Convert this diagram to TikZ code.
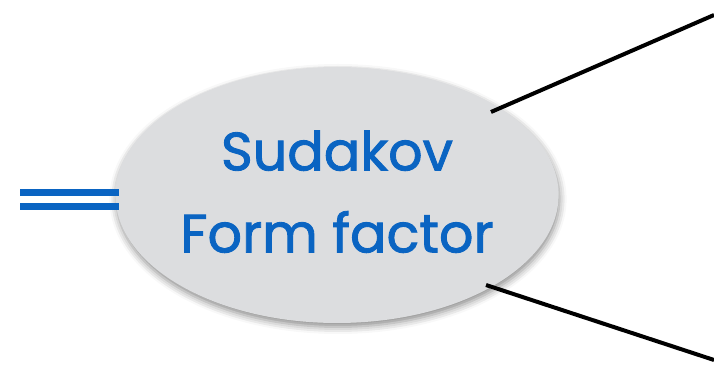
\documentclass[tikz,border=0pt]{standalone}
\usepackage{fontspec}
\newfontfamily\labelfont{Poppins}[FakeBold=1.6]
\usetikzlibrary{shapes.geometric,shadows.blur,calc}
\definecolor{labelblue}{HTML}{0A64C2}
\definecolor{blobgray}{HTML}{DCDDDF}
\tikzset{
  blob/.style={ellipse, fill=blobgray, minimum width=436pt, minimum height=256pt,
    inner sep=0pt, align=center, text=labelblue,
    font=\labelfont\fontsize{54pt}{82pt}\selectfont,
    blur shadow={shadow xshift=1pt, shadow yshift=-4pt, shadow blur radius=7pt, shadow opacity=45}},
  legline/.style={line width=4pt, black},
  railline/.style={line width=7pt, labelblue}
}
\begin{document}
\begin{tikzpicture}[x=1pt,y=1pt]
  \useasboundingbox (0,0) rectangle (714,366);
  % incoming double line
  \coordinate (r1a) at (20,173);
  \coordinate (r2a) at (20,159);
  \node[blob] (sud) at (337,171) {\raisebox{3pt}{\begin{tabular}{@{}c@{}}Sudakov\\Form factor\end{tabular}}};
  \coordinate (r1b) at ([xshift=4pt]sud.west |- r1a);
  \coordinate (r2b) at ([xshift=4pt]sud.west |- r2a);
  \draw[railline] (r1a) -- (r1b);
  \draw[railline] (r2a) -- (r2b);
  % outgoing legs
  \coordinate (l1a) at ([shift={(154pt,83pt)}]sud.center);
  \coordinate (l2a) at ([shift={(149pt,-90pt)}]sud.center);
  \coordinate (l1b) at (714,351);
  \coordinate (l2b) at (714,6);
  \draw[legline] (l1a) -- (l1b);
  \draw[legline] (l2a) -- (l2b);
\end{tikzpicture}
\end{document}
